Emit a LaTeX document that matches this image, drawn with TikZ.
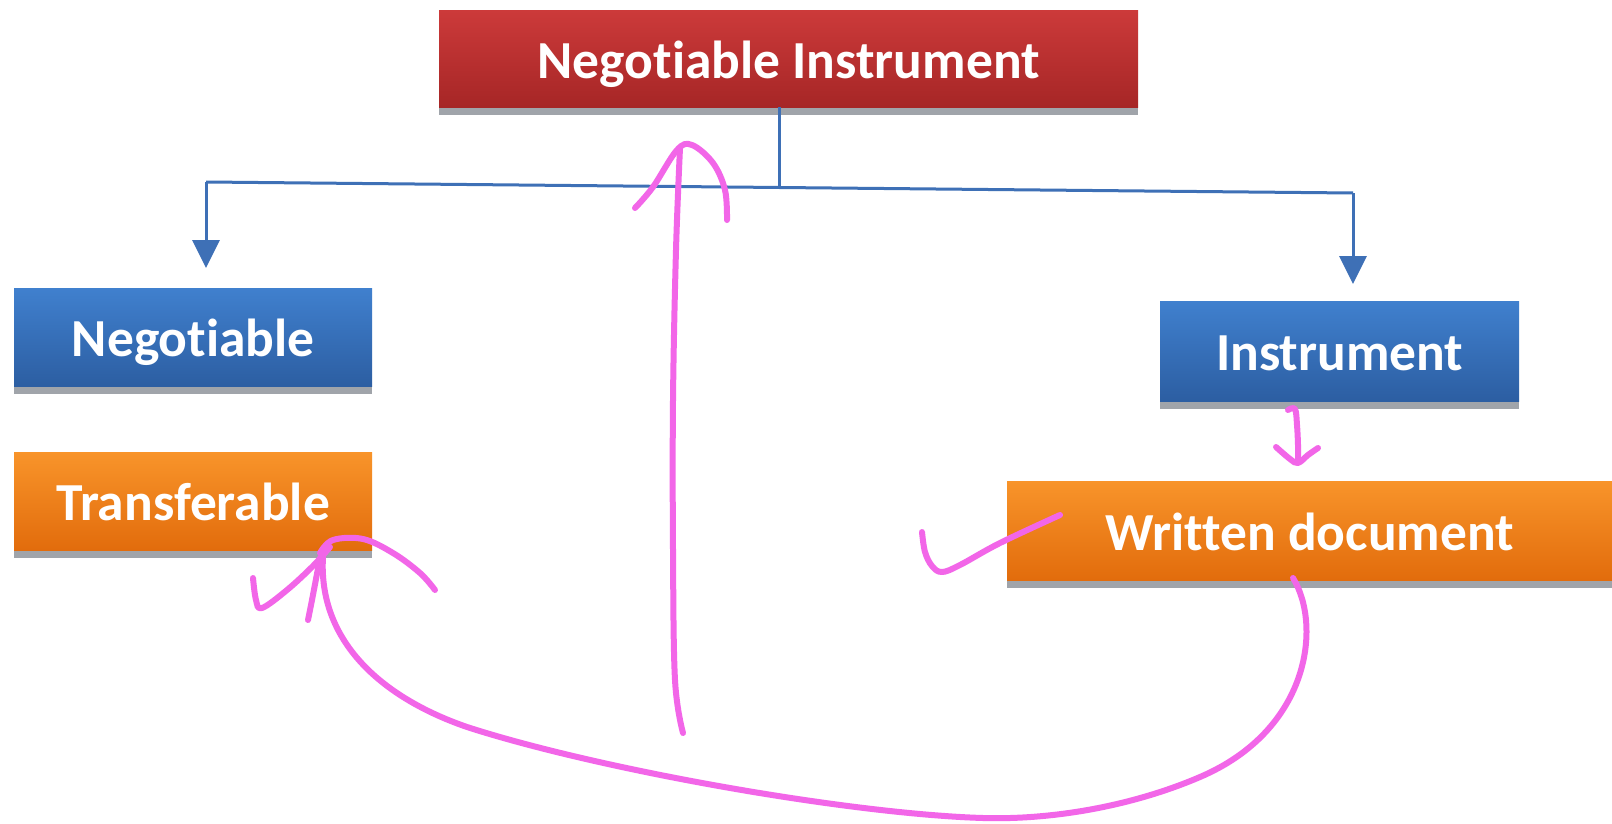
\documentclass[tikz,border=0pt]{standalone}
\usepackage{fontspec}
\setmainfont{Carlito}[RawFeature={-liga;-clig;-calt;-dlig}]
\usetikzlibrary{shadows,arrows.meta}
\definecolor{redtop}{RGB}{204,58,58}
\definecolor{redbot}{RGB}{166,38,38}
\definecolor{bluetop}{RGB}{64,128,206}
\definecolor{bluebot}{RGB}{44,94,162}
\definecolor{orgtop}{RGB}{248,148,42}
\definecolor{orgbot}{RGB}{226,108,12}
\definecolor{shadowgray}{RGB}{160,164,170}
\definecolor{linkblue}{RGB}{62,112,182}
\definecolor{pen}{RGB}{242,102,232}
\tikzset{
  boxbase/.style={anchor=north west, inner sep=0pt, text=white,
    text height=39pt, text depth=0pt,
    font=\fontsize{53.5}{60}\selectfont\bfseries,
    drop shadow={shadow xshift=0pt, shadow yshift=-8pt, fill=shadowgray, opacity=1}},
  redbox/.style={boxbase, top color=redtop, bottom color=redbot},
  bluebox/.style={boxbase, top color=bluetop, bottom color=bluebot},
  orangebox/.style={boxbase, top color=orgtop, bottom color=orgbot},
  link/.style={draw=linkblue, line width=3pt},
  linkarrow/.style={link, -{Triangle[width=27pt,length=28pt]}},
  ink/.style={draw=pen, line width=6pt, line cap=round, line join=round}
}
\begin{document}
\begin{tikzpicture}[x=1pt,y=-1pt]
\useasboundingbox[fill=white] (0,0) rectangle (1612,824);
% boxes
\node[redbox, minimum width=699pt, minimum height=97pt] (top) at (439,10) {Negotiable Instrument};
\node[bluebox, minimum width=358pt, minimum height=98pt] (neg) at (14,288) {Negotiable};
\node[orangebox, minimum width=358pt, minimum height=98pt] (trans) at (14,452) {Transferable};
\node[bluebox, minimum width=359pt, minimum height=100pt] (instr) at (1160,301) {Instrument};
\node[orangebox, minimum width=605pt, minimum height=99pt] (written) at (1007,481) {Written document};
% connectors
\coordinate (J) at (779,186);
\coordinate (L) at (206,182);
\coordinate (R) at (1353,193);
\draw[link] (top.south -| J) -- (J);
\draw[link] (L) -- (R);
\draw[linkarrow] (L) -- ([yshift=20pt]L |- neg.north);
\draw[linkarrow] (R) -- ([yshift=17pt]R |- instr.north);
% pink annotations
\draw[ink] plot[smooth, tension=0.6] coordinates {(683,733) (675,680) (673,550) (673,400) (676,250) (680,148)};
\draw[ink] plot[smooth, tension=0.6] coordinates {(635,208) (653,187) (677,150) (692,145) (713,163) (725,190) (727,220)};
\coordinate (c0) at (1293,578);
\coordinate (c1) at (1200,777);
\coordinate (c2) at (983,818);
\coordinate (c3) at (467,727);
\coordinate (c4) at (323,557);
\draw[ink] (c0) .. controls (1322,625) and (1310,730) .. (c1)
  .. controls (1130,807) and (1050,820) .. (c2)
  .. controls (850,814) and (600,770) .. (c3)
  .. controls (380,697) and (318,640) .. (c4);
\draw[ink] plot[smooth, tension=0.6] coordinates {(308,620) (312,600) (320,558)};
\draw[ink] plot[smooth, tension=0.6] coordinates {(320,553) (333,540) (363,539) (393,553) (420,573) (435,590)};
\draw[ink] plot[smooth, tension=0.6] coordinates {(253,578) (256,600) (262,608) (287,590) (313,566) (330,547)};
\draw[ink] plot[smooth, tension=0.6] coordinates {(922,532) (925,552) (932,566) (942,572) (960,565) (1000,543) (1060,515)};
\draw[ink] plot[smooth, tension=0.6] coordinates {(1288,410) (1295,409) (1297,425) (1298,445) (1298,462)};
\draw[ink] plot[smooth, tension=0.6] coordinates {(1276,447) (1290,459) (1298,463) (1308,455) (1318,448)};
\end{tikzpicture}
\end{document}
